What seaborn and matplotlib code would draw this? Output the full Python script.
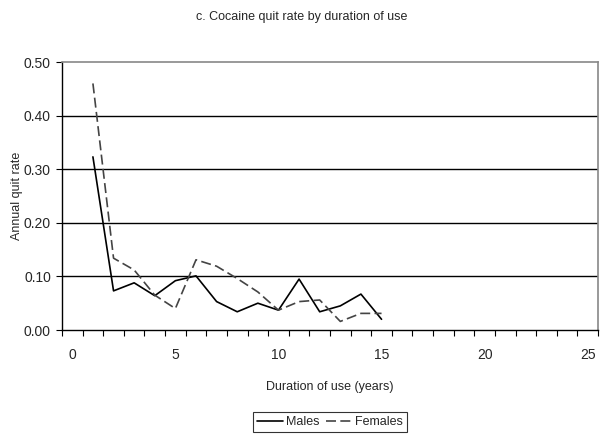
import matplotlib
matplotlib.use("Agg")
import matplotlib.pyplot as plt
import seaborn as sns
import pandas as pd
import numpy as np
from matplotlib.ticker import FixedLocator, FormatStrFormatter
from matplotlib.lines import Line2D

years = [1, 2, 3, 4, 5, 6, 7, 8, 9, 10, 11, 12, 13, 14, 15]
males = [0.323, 0.073, 0.088, 0.064, 0.092, 0.101, 0.053, 0.034, 0.050, 0.037,
         0.095, 0.034, 0.045, 0.067, 0.020]
females = [0.460, 0.134, 0.112, 0.065, 0.040, 0.131, 0.119, 0.096, 0.071, 0.037,
           0.053, 0.056, 0.016, 0.031, 0.031]
x_tick_labels = [0, 5, 10, 15, 20, 25]
y_ticks = [0.0, 0.1, 0.2, 0.3, 0.4, 0.5]

sns.set_theme(style="white")
plt.rcParams['font.family'] = ['Liberation Sans', 'DejaVu Sans']

df = pd.DataFrame({
    "Duration": years * 2,
    "Rate": males + females,
    "Sex": ["Males"] * len(years) + ["Females"] * len(years),
})

W, H = 600, 438
fig = plt.figure(figsize=(6, 4.38), dpi=100)
L, R, T, B = 62, 598, 62, 330
ax = fig.add_axes([L/W, 1-B/H, (R-L)/W, (B-T)/H])

sns.lineplot(data=df, x="Duration", y="Rate", hue="Sex", style="Sex",
             palette={"Males": "black", "Females": "#444444"},
             dashes={"Males": "", "Females": (6, 2.6)},
             linewidth=1.2, ax=ax, legend=False)

ax.set_xlim(-0.5, 25.5)
ax.set_ylim(0, 0.5)
ax.set_xticks(x_tick_labels)
ax.set_xticklabels([str(v) for v in x_tick_labels], fontsize=10)
ax.xaxis.set_minor_locator(FixedLocator(np.arange(-0.5, 26, 1)))
ax.tick_params(axis='x', which='major', length=0, pad=13)
ax.tick_params(axis='x', which='minor', length=4, width=0.8, direction='out', color='black', bottom=True)
ax.set_yticks(y_ticks)
ax.yaxis.set_major_formatter(FormatStrFormatter('%.2f'))
ax.tick_params(axis='y', which='major', length=4, width=0.8, direction='out', color='black',
               labelsize=10, left=True, pad=4)

for y in y_ticks[1:-1]:
    ax.axhline(y, color='black', linewidth=1.0, zorder=0)

for s in ['left', 'bottom']:
    ax.spines[s].set_color('black')
    ax.spines[s].set_linewidth(1.0)
for s in ['top', 'right']:
    ax.spines[s].set_color('#888888')
    ax.spines[s].set_linewidth(1.2)

ax.set_xlabel("Duration of use (years)", fontsize=9, va='center')
ax.xaxis.set_label_coords(0.5, (B-387)/(B-T))
ax.set_ylabel("Annual quit rate", fontsize=9, va='center')
ax.yaxis.set_label_coords((17.5-L)/(R-L), 0.5)
fig.text(302/W, 1-17/H, "c. Cocaine quit rate by duration of use", ha='center', va='center', fontsize=9)

handles = [Line2D([], [], color='black', lw=1.2),
           Line2D([], [], color='#444444', lw=1.2, dashes=(6, 2.6))]
leg = fig.legend(handles, ["Males", "Females"], loc='center', bbox_to_anchor=(330/W, 1-422/H),
                 ncol=2, frameon=True, fancybox=False, fontsize=9, handlelength=2.1,
                 handletextpad=0.25, columnspacing=0.5, borderpad=0.3, borderaxespad=0)
leg.get_frame().set_edgecolor('black')
leg.get_frame().set_linewidth(0.8)

fig.savefig("out.png", dpi=100)
